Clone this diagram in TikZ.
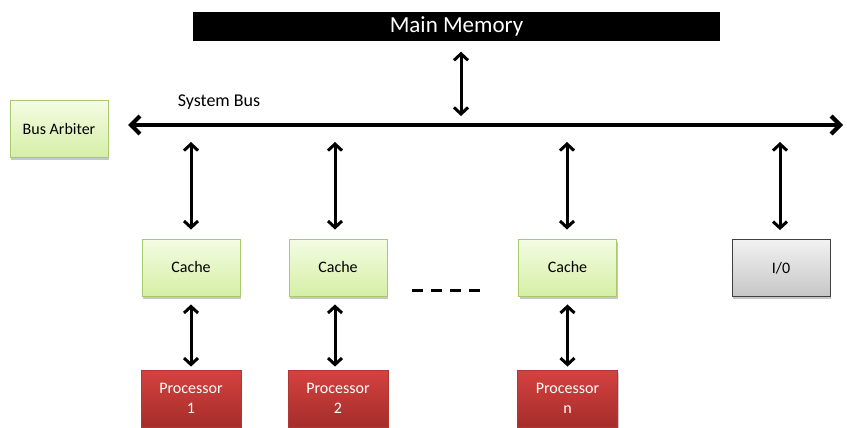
\documentclass[tikz,border=0pt]{standalone}
\usepackage{fontspec}
\setmainfont{Carlito}
\usetikzlibrary{arrows.meta,shadows}

\definecolor{greentop}{HTML}{F4FCE3}
\definecolor{greenbot}{HTML}{D5EFA6}
\definecolor{greenedge}{HTML}{A8C96E}
\definecolor{redtop}{HTML}{D44240}
\definecolor{redbot}{HTML}{A52D2A}
\definecolor{rededge}{HTML}{B03834}
\definecolor{graytop}{HTML}{F2F2F2}
\definecolor{graybot}{HTML}{C6C6C6}

\tikzset{
  softshadow/.style={drop shadow={shadow xshift=1pt, shadow yshift=-2.5pt, fill=black, opacity=0.22}},
  box/.style={rectangle, inner sep=0pt, minimum width=98pt, minimum height=57pt,
    font=\fontsize{16}{20}\selectfont, align=center, softshadow},
  greenbox/.style={box, draw=greenedge, line width=0.9pt, top color=greentop, bottom color=greenbot},
  redbox/.style={box, minimum width=100pt, draw=rededge, line width=0.8pt, top color=redtop, bottom color=redbot, text=white},
  graybox/.style={box, draw=black!75, line width=0.8pt, top color=graytop, bottom color=graybot},
  memorybox/.style={rectangle, inner sep=0pt, minimum width=531pt, minimum height=33pt,
    fill=black, draw=white, line width=3.5pt, text=white,
    font=\fontsize{23}{27}\selectfont,
    drop shadow={shadow xshift=1pt, shadow yshift=-2pt, fill=black, opacity=0.3}},
  link/.style={line width=3pt, line cap=round,
    {Straight Barb[length=6.5pt,width=14pt,line width=3pt]}-{Straight Barb[length=6.5pt,width=14pt,line width=3pt]}},
  busline/.style={line width=4.2pt, line cap=round,
    {Straight Barb[length=9pt,width=18pt,line width=4.2pt]}-{Straight Barb[length=9pt,width=18pt,line width=4.2pt]}},
  dots/.style={line width=3pt, dash pattern=on 11pt off 8pt},
}

\begin{document}
\begin{tikzpicture}[x=1pt,y=-1pt]
  \useasboundingbox (0,0) rectangle (847,428);

  % memory and bus
  \node[memorybox] (mem) at (456.5,26.5) {Main Memory};
  \coordinate (busL) at (128,125);
  \coordinate (busR) at (843,125);
  \draw[busline] (busL) -- (busR);
  \node[font=\fontsize{18}{21}\selectfont] (buslabel) at (219,102) {System Bus};
  \coordinate (memtap) at (461,121);
  \draw[link, shorten <=7pt, shorten >=5pt] (mem.south -| memtap) -- (memtap);

  \node[greenbox] (arb) at (59,129) {Bus Arbiter};

  % caches, I/O and processors
  \node[greenbox] (c1) at (191,267.5) {Cache};
  \node[greenbox] (c2) at (338,267.5) {Cache};
  \node[greenbox] (c3) at (567.5,267.5) {Cache};
  \node[graybox]  (io) at (781,268) {I/0};

  \node[redbox] (p1) at (191,398.5) {Processor\\1};
  \node[redbox] (p2) at (338,398.5) {Processor\\2};
  \node[redbox] (p3) at (567.5,398.5) {Processor\\n};

  % taps off the bus
  \coordinate (t1) at (191,142);
  \coordinate (t2) at (335,142);
  \coordinate (t3) at (567,142);
  \coordinate (t4) at (780,142);

  \draw[link, shorten >=9pt] (t1) -- (t1 |- c1.north);
  \draw[link, shorten >=9pt] (t2) -- (t2 |- c2.north);
  \draw[link, shorten >=9pt] (t3) -- (t3 |- c3.north);
  \draw[link, shorten >=9pt] (t4) -- (t4 |- io.north);

  \draw[link, shorten <=8pt, shorten >=3pt] (c1.south) -- (p1.north);
  \draw[link, shorten <=8pt, shorten >=3pt] (t2 |- c2.south) -- (t2 |- p2.north);
  \draw[link, shorten <=8pt, shorten >=3pt] (c3.south) -- (c3.south |- p3.north);

  % elided processors
  \coordinate (dashA) at (412,290);
  \coordinate (dashB) at (482,290);
  \draw[dots] (dashA) -- (dashB);
\end{tikzpicture}
\end{document}
